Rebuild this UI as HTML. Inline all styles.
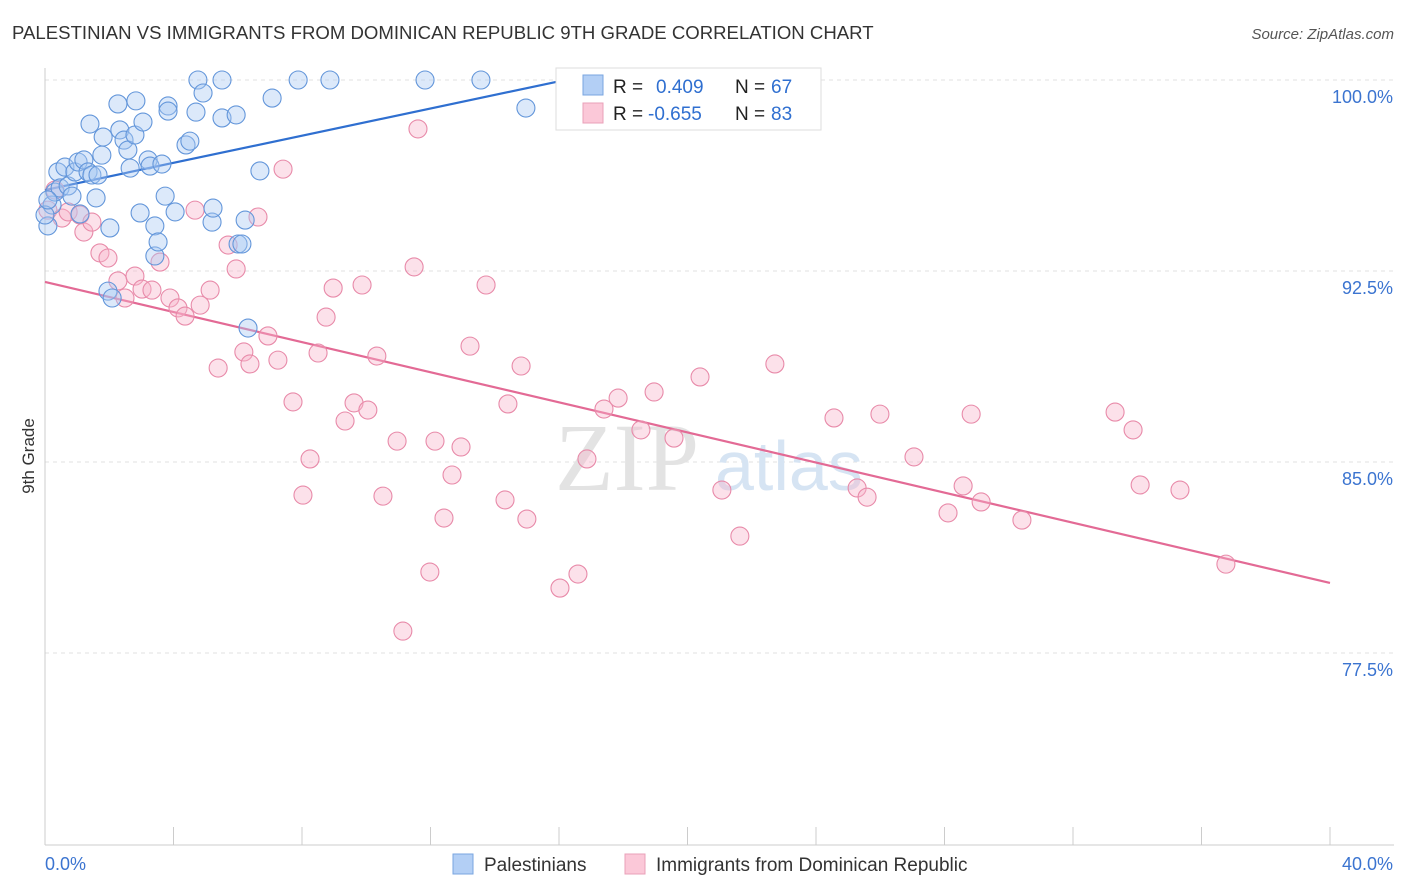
<!DOCTYPE html>
<html><head><meta charset="utf-8"><style>
body{margin:0;background:#fff;font-family:"Liberation Sans",sans-serif;}
svg{display:block}
</style></head><body>
<svg id="chart" width="1406" height="892">
<text x="12" y="39" font-size="18.6" fill="#333">PALESTINIAN VS IMMIGRANTS FROM DOMINICAN REPUBLIC 9TH GRADE CORRELATION CHART</text>
<text x="1394" y="39" font-size="15" fill="#555" font-style="italic" text-anchor="end">Source: ZipAtlas.com</text>
<text x="34" y="456" font-size="17" fill="#333" text-anchor="middle" transform="rotate(-90 34 456)">9th Grade</text>
<g id="grid"></g>
<text x="555" y="490" font-size="96" fill="#e3e3e3" font-family="Liberation Serif,serif">ZIP</text>
<text x="715" y="490" font-size="70" fill="#d6e4f3">atlas</text>
<g id="lines"></g>
<g id="points"></g>
<g>
<rect x="556" y="68" width="265" height="62" fill="#fff" stroke="#ddd"/>
<rect x="583" y="75" width="20" height="20" fill="#b3cff5" stroke="#7aa6e0"/>
<rect x="583" y="103" width="20" height="20" fill="#fbc8d8" stroke="#eaa0b8"/>
<text x="613" y="93" font-size="19" fill="#222">R = </text><text x="656" y="93" font-size="19" fill="#2f6fd0">0.409</text>
<text x="735" y="93" font-size="19" fill="#222">N = </text><text x="771" y="93" font-size="19" fill="#2f6fd0">67</text>
<text x="613" y="120" font-size="19" fill="#222">R = </text><text x="648" y="120" font-size="19" fill="#2f6fd0">-0.655</text>
<text x="735" y="120" font-size="19" fill="#222">N = </text><text x="771" y="120" font-size="19" fill="#2f6fd0">83</text>
</g>
<g>
<rect x="453" y="854" width="20" height="20" fill="#b3cff5" stroke="#7aa6e0"/>
<text x="484" y="871" font-size="19" fill="#333">Palestinians</text>
<rect x="625" y="854" width="20" height="20" fill="#fbc8d8" stroke="#eaa0b8"/>
<text x="656" y="871" font-size="19" fill="#333">Immigrants from Dominican Republic</text>
</g>
</svg>
<script>
const yTicks=[100,92.5,85,77.5];
const yTickLabels=["100.0%","92.5%","85.0%","77.5%"];
const xEndLabels=["0.0%","40.0%"];
const blueX=[0.09,0.22,0.31,0.40,0.47,0.62,0.72,0.84,0.93,1.03,1.09,1.21,1.34,1.46,1.59,1.65,1.77,1.81,2.02,1.96,2.09,2.27,1.40,2.33,2.46,2.58,2.65,2.80,2.83,2.96,3.05,3.21,3.27,3.42,3.42,3.52,3.64,3.74,3.83,3.83,4.05,4.39,4.51,4.70,4.76,4.92,5.20,5.23,5.51,5.51,5.95,6.01,6.13,6.23,6.32,6.69,7.07,7.88,8.87,11.83,13.57,14.97,17.03,0,0.09];
const blueY=[94.27,95.09,95.60,96.39,95.76,96.58,95.84,95.44,96.39,96.78,94.74,96.86,96.39,96.27,95.37,96.27,97.05,97.76,94.19,91.71,91.44,99.06,98.27,98.04,97.64,97.25,96.54,97.84,99.18,94.78,98.35,96.86,96.62,94.27,93.09,93.64,96.70,95.44,98.98,98.78,94.82,97.45,97.60,98.74,100,99.49,94.42,94.97,100,98.51,98.63,93.56,93.56,94.50,90.26,96.43,99.29,100,100,100,100,98.90,99.96,94.70,95.29];
const pinkX=[0.09,0.31,0.53,0.72,1.09,1.21,1.46,1.71,1.96,2.27,2.49,2.80,3.02,3.33,3.58,3.89,4.14,4.36,4.67,4.83,5.14,5.39,5.70,5.95,6.19,6.38,6.63,6.94,7.25,7.41,7.72,8.03,8.25,8.50,8.75,8.97,9.34,9.62,9.87,10.05,10.33,10.52,10.96,11.14,11.49,11.61,11.98,12.14,12.42,12.67,12.95,13.23,13.73,14.32,14.41,14.82,15.00,16.03,16.59,16.87,17.40,17.84,18.55,18.96,19.58,20.39,21.07,21.63,22.72,24.56,25.28,25.59,25.99,27.05,28.11,28.58,28.83,29.14,30.41,33.31,33.87,34.09,35.33,36.76];
const pinkY=[94.89,95.68,94.58,94.82,94.70,94.03,94.42,93.21,93.01,92.11,91.44,92.30,91.79,91.75,92.85,91.44,91.05,90.73,94.89,91.16,91.75,88.69,93.52,92.58,89.32,88.85,94.62,89.95,89.00,96.50,87.36,83.70,85.12,89.28,90.69,91.83,86.61,87.32,91.95,87.04,89.16,83.66,85.82,78.36,92.66,98.08,80.68,85.82,82.80,84.49,85.59,89.55,91.95,83.51,87.28,88.77,82.76,80.05,80.60,85.12,87.08,87.51,86.26,87.75,85.94,88.34,83.90,82.09,88.85,86.73,83.98,83.62,86.88,85.20,83.00,84.06,86.88,83.43,82.72,86.96,86.26,84.10,83.90,80.99];
const blueLine=[95.68,100.08];
const blueLineX=[0,16.5];
const pinkLine=[92.07,80.25];
const pinkLineX=[0,40];

const NS="http://www.w3.org/2000/svg";
const X=v=>45+v/40*1285;
const Y=v=>80+(100-v)/7.5*191;
function mk(t,a,p){const e=document.createElementNS(NS,t);for(const k in a)e.setAttribute(k,a[k]);p.appendChild(e);return e;}
const grid=document.getElementById('grid');
yTicks.forEach((t,i)=>{
 const l=mk('line',{x1:45,x2:1394,y1:Y(t),y2:Y(t),stroke:'#e2e2e2','stroke-dasharray':'4,4'},grid);
 
 
 const tx=mk('text',{x:1393,y:Y(t)+23,'font-size':18,fill:'#3b74d0','text-anchor':'end'},grid);
 tx.textContent=yTickLabels[i];
 
 
});
mk('line',{x1:45,x2:45,y1:68,y2:845,stroke:'#ccc'},grid);
mk('line',{x1:45,x2:1394,y1:845,y2:845,stroke:'#ccc'},grid);
for(let i=0;i<=10;i++){const l=mk('line',{x1:X(i*4),x2:X(i*4),y1:827,y2:845,stroke:'#ccc'},grid);
 
 }
const xl0=mk('text',{x:45,y:870,'font-size':18,fill:'#3b74d0'},grid);xl0.textContent=xEndLabels[0];


const xl1=mk('text',{x:1393,y:870,'font-size':18,fill:'#3b74d0','text-anchor':'end'},grid);xl1.textContent=xEndLabels[1];


const pts=document.getElementById('points');
function draw(xs,ys,fill,stroke,name){xs.forEach((x,i)=>{
 const c=mk('circle',{cx:X(x),cy:Y(ys[i]),r:9,fill:fill,'fill-opacity':0.4,stroke:stroke,'stroke-width':1.1},pts);
 
 });}
draw(pinkX,pinkY,'#f8b4ca','#e88aa9','pink-point');
draw(blueX,blueY,'#a8c8f2','#6396da','blue-point');
const lines=document.getElementById('lines');
const bl=mk('line',{x1:X(blueLineX[0]),y1:Y(blueLine[0]),x2:X(blueLineX[1]),y2:Y(blueLine[1]),stroke:'#2f6fd0','stroke-width':2.2},lines);


const pl=mk('line',{x1:X(pinkLineX[0]),y1:Y(pinkLine[0]),x2:X(pinkLineX[1]),y2:Y(pinkLine[1]),stroke:'#e36a95','stroke-width':2.2},lines);


</script>
</body></html>
